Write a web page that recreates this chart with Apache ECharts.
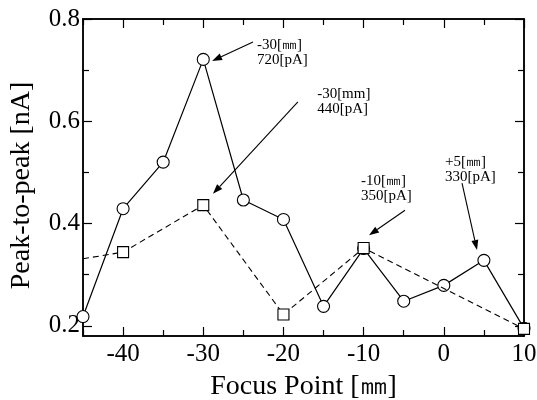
<!DOCTYPE html>
<html><head><meta charset="utf-8">
<script src="https://cdn.jsdelivr.net/npm/echarts@6/dist/echarts.min.js"></script>
<style>html,body{margin:0;padding:0;background:#fff}#c{width:537px;height:400px}</style>
</head><body><div id="c"></div>
<script>
// Data
const focusX = [-45, -40, -35, -30, -25, -20, -15, -10, -5, 0, 5, 10];
const circleVals = [0.218, 0.429, 0.52, 0.721, 0.446, 0.408, 0.238, 0.351, 0.248, 0.279, 0.328, 0.195];
const squareX = [-45, -40, -30, -20, -10, 10];
const squareVals = [0.331, 0.344, 0.436, 0.222, 0.352, 0.194];
const xMajorTicks = [-40, -30, -20, -10, 0, 10];
const xMinorTicks = [-45, -35, -25, -15, -5, 5];
const yMajorTicks = [0.2, 0.4, 0.6, 0.8];
const yMinorTicks = [0.3, 0.5, 0.7];
const annoTexts = ['-30[㎜]\n720[pA]', '-30[mm]\n440[pA]', '-10[㎜]\n350[pA]', '+5[㎜]\n330[pA]'];
const annoTextAt = [[-23.3, 0.763], [-15.8, 0.667], [-10.33, 0.497], [0.15, 0.534]];
const annoFrom = [[-23.8, 0.755], [-18.2, 0.638], [-4.84, 0.426], [2.27, 0.479]];
const annoTo = [[-28.9, 0.718], [-28.8, 0.458], [-9.33, 0.377], [4.14, 0.348]];

const FONT = 'Liberation Serif';
const X_MIN = -45, X_MAX = 10, Y_MIN = 0.18, Y_MAX = 0.8;

function xAx(pos, ticks, len, labels, name) {
  return {
    type: 'value', position: pos, min: X_MIN, max: X_MAX,
    name: name || '', nameLocation: 'middle', nameGap: 37,
    nameTextStyle: {fontFamily: FONT, fontSize: 28, color: '#000'},
    axisLine: {show: true, onZero: false, lineStyle: {color: '#000', width: 1.5}},
    axisTick: {show: true, inside: true, length: len, customValues: ticks, lineStyle: {color: '#000', width: 1.2}},
    axisLabel: labels ? {show: true, customValues: ticks, fontFamily: FONT, fontSize: 25, color: '#000', margin: 6, hideOverlap: false} : {show: false},
    splitLine: {show: false}
  };
}
function yAx(pos, ticks, len, labels, name) {
  return {
    type: 'value', position: pos, min: Y_MIN, max: Y_MAX,
    name: name || '', nameLocation: 'middle', nameGap: 47,
    nameTextStyle: {fontFamily: FONT, fontSize: 28, color: '#000', padding: [0, 16, 0, 0]},
    axisLine: {show: true, onZero: false, lineStyle: {color: '#000', width: 1.5}},
    axisTick: {show: true, inside: true, length: len, customValues: ticks, lineStyle: {color: '#000', width: 1.2}},
    axisLabel: labels ? {show: true, customValues: ticks, fontFamily: FONT, fontSize: 25, color: '#000', margin: 3, hideOverlap: false,
      formatter: v => v.toFixed(1)} : {show: false},
    splitLine: {show: false}
  };
}

const chart = echarts.init(document.getElementById('c'));
const circleData = focusX.map((x, i) => [x, circleVals[i]]);
const squareData = squareX.map((x, i) => i === 0 ? {value: [x, squareVals[i]], symbol: 'none'} : [x, squareVals[i]]);

chart.setOption({
  animation: false,
  backgroundColor: '#fff',
  grid: {left: 83, right: 13, top: 19, bottom: 64, containLabel: false, outerBoundsMode: 'none'},
  xAxis: [
    xAx('bottom', xMajorTicks, 9, true, 'Focus Point [㎜]'),
    xAx('bottom', xMinorTicks, 6, false),
    xAx('top', xMajorTicks, 9, false),
    xAx('top', xMinorTicks, 6, false)
  ],
  yAxis: [
    yAx('left', yMajorTicks, 9, true, 'Peak-to-peak [nA]'),
    yAx('left', yMinorTicks, 6, false),
    yAx('right', yMajorTicks, 9, false),
    yAx('right', yMinorTicks, 6, false)
  ],
  series: [
    {
      type: 'line', data: circleData, xAxisIndex: 0, yAxisIndex: 0,
      symbol: 'circle', symbolSize: 12,
      lineStyle: {color: '#000', width: 1.2},
      itemStyle: {color: '#fff', borderColor: '#000', borderWidth: 1.1},
      z: 2
    },
    {
      type: 'line', data: squareData, xAxisIndex: 0, yAxisIndex: 0,
      symbol: 'rect', symbolSize: 11,
      lineStyle: {color: '#000', width: 1.1, type: [6, 4]},
      itemStyle: {color: '#fff', borderColor: '#000', borderWidth: 1.1},
      z: 3
    }
  ]
});

const g = [];
annoTexts.forEach((t, i) => {
  const p = chart.convertToPixel({xAxisIndex: 0, yAxisIndex: 0}, annoTextAt[i]);
  g.push({
    type: 'text', x: p[0], y: p[1], z: 10,
    style: {text: t, fontFamily: FONT, fontSize: 15, lineHeight: 15, fill: '#000', align: 'left', verticalAlign: 'top'}
  });
  const a = chart.convertToPixel({xAxisIndex: 0, yAxisIndex: 0}, annoFrom[i]);
  const b = chart.convertToPixel({xAxisIndex: 0, yAxisIndex: 0}, annoTo[i]);
  const dx = b[0] - a[0], dy = b[1] - a[1];
  const L = Math.hypot(dx, dy), ux = dx / L, uy = dy / L;
  const hl = 10, hw = 3.5;
  const bx = b[0] - ux * hl, by = b[1] - uy * hl;
  g.push({type: 'line', z: 10, shape: {x1: a[0], y1: a[1], x2: bx, y2: by}, style: {stroke: '#000', lineWidth: 1.1}});
  g.push({type: 'polygon', z: 10, shape: {points: [[b[0], b[1]], [bx - uy * hw, by + ux * hw], [bx + uy * hw, by - ux * hw]]}, style: {fill: '#000'}});
});
chart.setOption({graphic: g});
</script></body></html>
